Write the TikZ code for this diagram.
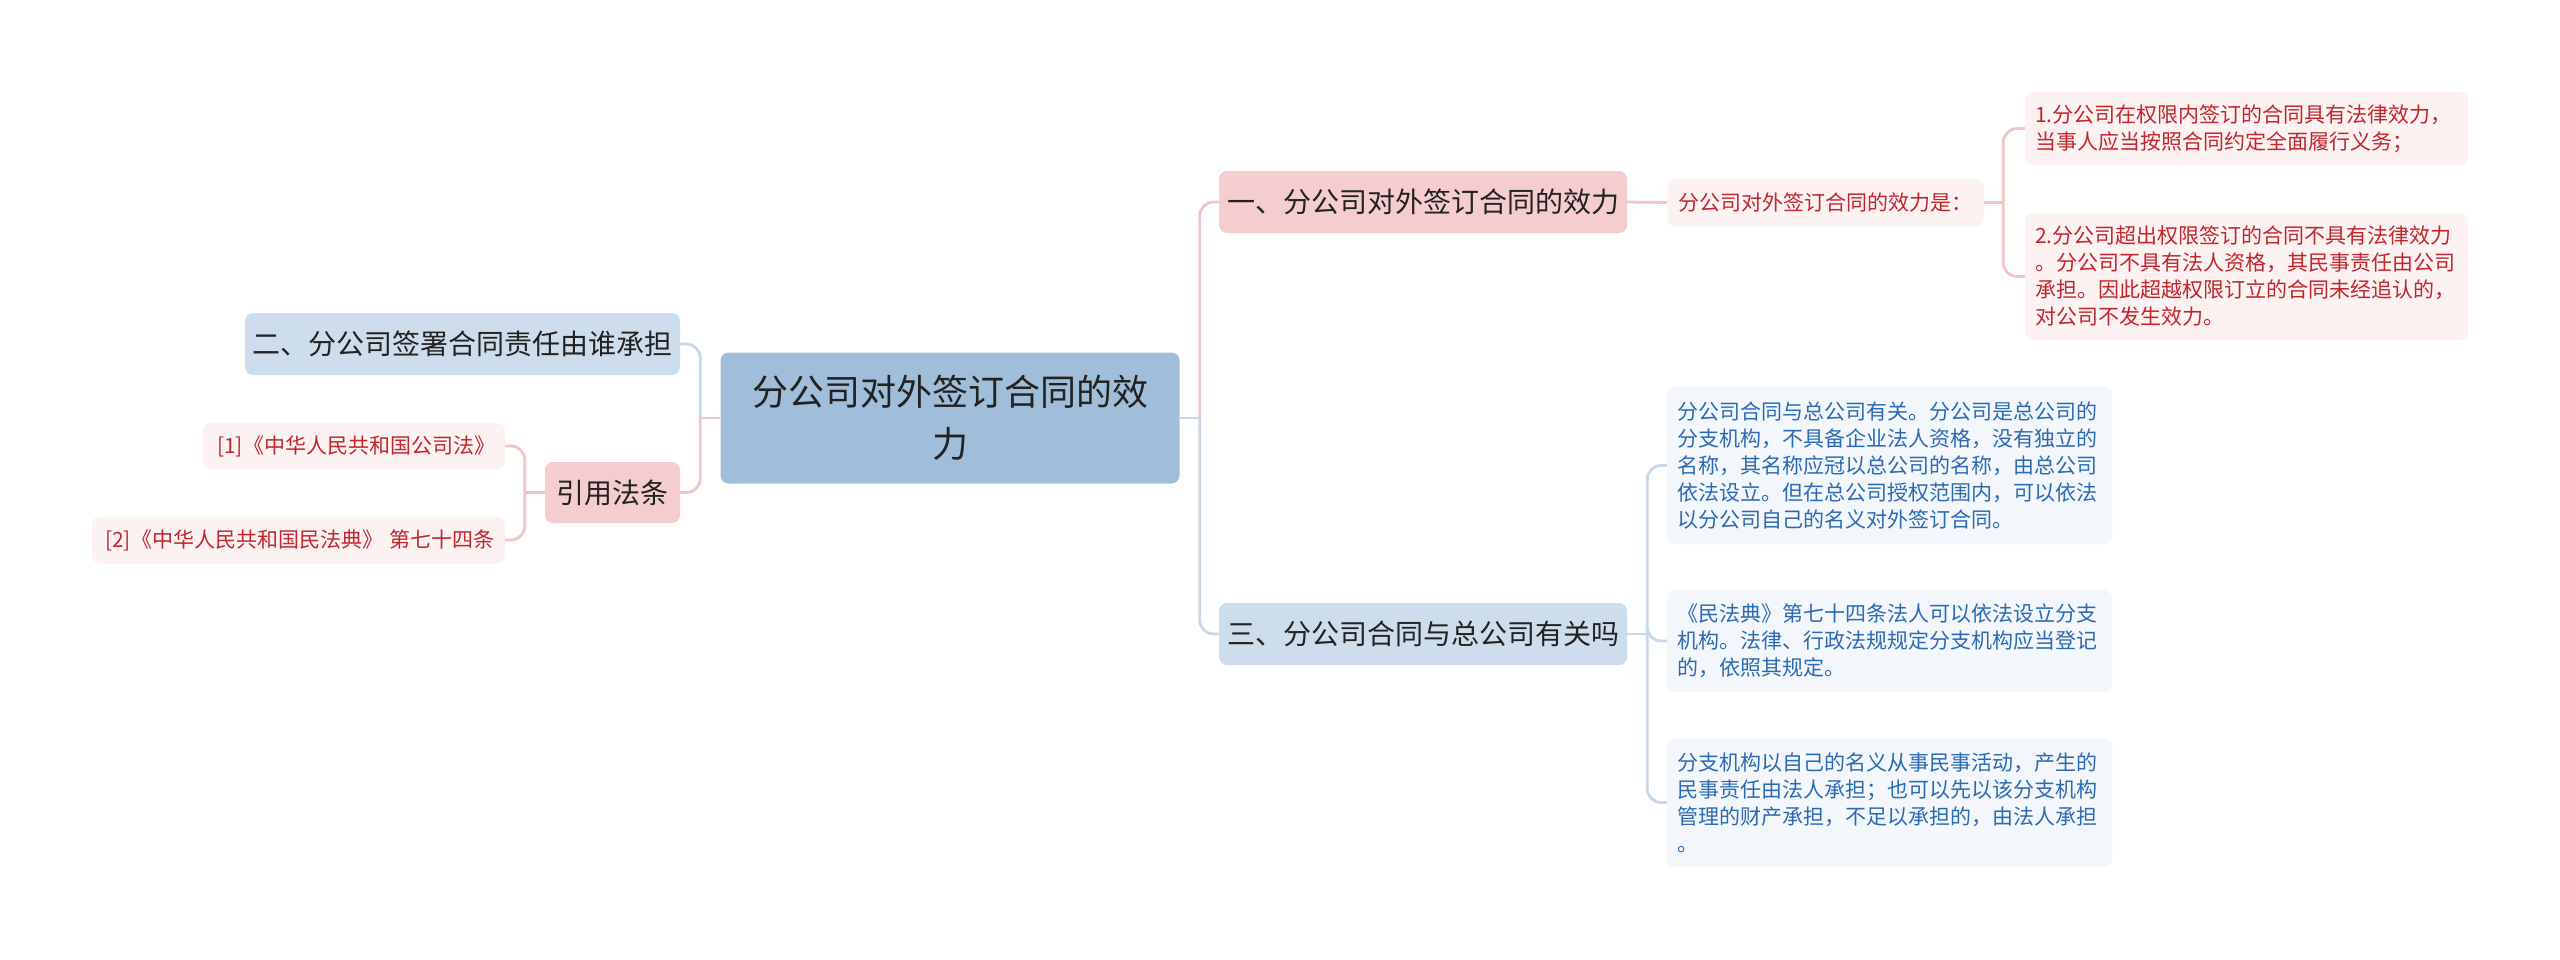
\documentclass[tikz,border=0pt]{standalone}
\usepackage{fontspec}
\setmainfont{Noto Sans CJK SC}
\definecolor{rootfill}{HTML}{A0BEDA}
\definecolor{pinkfill}{HTML}{F5CDCF}
\definecolor{bluefill}{HTML}{CDDDEC}
\definecolor{pinkleaf}{HTML}{FDF2F2}
\definecolor{blueleaf}{HTML}{F3F7FC}
\definecolor{redtext}{HTML}{C0262C}
\definecolor{bluetext}{HTML}{2B6BB3}
\definecolor{darktext}{HTML}{222222}
\definecolor{pinkline}{HTML}{F1C5C7}
\definecolor{blueline}{HTML}{C8D8E9}

\begin{document}
\begin{tikzpicture}[x=1pt,y=-1pt,
    rootnode/.style={fill=rootfill,rounded corners=8pt,minimum width=459pt,minimum height=131pt,
      align=center,text=darktext,font=\fontsize{36}{52}\selectfont},
    topic/.style={rounded corners=8pt,minimum height=62pt,text=darktext,font=\fontsize{28}{34}\selectfont},
    pinktopic/.style={topic,fill=pinkfill},
    bluetopic/.style={topic,fill=bluefill},
    redleaf/.style={fill=pinkleaf,rounded corners=8pt,text=redtext,inner xsep=10pt,inner ysep=0pt,
      font=\fontsize{21}{27}\selectfont},
    blueleafnode/.style={fill=blueleaf,rounded corners=8pt,text=bluetext,inner xsep=10pt,inner ysep=0pt,
      font=\fontsize{21}{27}\selectfont,text width=425pt,align=left},
    link/.style={line width=2.8pt,rounded corners=14pt},
    pinklink/.style={link,draw=pinkline},
    bluelink/.style={link,draw=blueline}]
  \useasboundingbox[fill=white] (0,0) rectangle (2560,959);

  % centre
  \node[rootnode] (root) at (950,418) {分公司对外签订合同的效\\力};

  % right side
  \node[pinktopic,minimum width=408pt] (effect) at (1423,202) {一、分公司对外签订合同的效力};
  \node[redleaf,minimum width=317pt,minimum height=47pt,font=\fontsize{21}{26}\selectfont]
    (effectis) at (1825.5,202.5) {分公司对外签订合同的效力是：};
  \node[redleaf,text width=423pt,align=left,minimum height=73pt] (within) at (2246.5,128.5)
    {1.分公司在权限内签订的合同具有法律效力，\\当事人应当按照合同约定全面履行义务；};
  \node[redleaf,text width=423pt,align=left,minimum height=127pt] (beyond) at (2246.5,276.5)
    {2.分公司超出权限签订的合同不具有法律效力\\。分公司不具有法人资格，其民事责任由公司\\承担。因此超越权限订立的合同未经追认的，\\对公司不发生效力。};

  \node[bluetopic,minimum width=408pt] (relate) at (1423,634) {三、分公司合同与总公司有关吗};
  \node[blueleafnode,minimum height=157pt] (branchorg) at (1889.5,465.5)
    {分公司合同与总公司有关。分公司是总公司的\\分支机构，不具备企业法人资格，没有独立的\\名称，其名称应冠以总公司的名称，由总公司\\依法设立。但在总公司授权范围内，可以依法\\以分公司自己的名义对外签订合同。};
  \node[blueleafnode,minimum height=102pt] (civilcode) at (1889.5,641)
    {《民法典》第七十四条法人可以依法设立分支\\机构。法律、行政法规规定分支机构应当登记\\的，依照其规定。};
  \node[blueleafnode,minimum height=129pt] (liability) at (1889.5,802.5)
    {分支机构以自己的名义从事民事活动，产生的\\民事责任由法人承担；也可以先以该分支机构\\管理的财产承担，不足以承担的，由法人承担\\。};

  % left side
  \node[bluetopic,minimum width=435pt] (whobears) at (462.5,344) {二、分公司签署合同责任由谁承担};
  \node[pinktopic,minimum width=135pt,minimum height=61pt] (cite) at (612.5,492.5) {引用法条};
  \node[redleaf,text width=282pt,align=right,minimum height=46pt] (lawone) at (354,446)
    {[1]《中华人民共和国公司法》};
  \node[redleaf,text width=393pt,align=right,minimum height=47pt] (lawtwo) at (298.5,540)
    {[2]《中华人民共和国民法典》 第七十四条};

  % connectors
  \draw[pinklink] (root.west) -- ++(-20,0) coordinate (lj);
  \draw[bluelink] (lj) |- (whobears.east);
  \draw[pinklink] (lj) |- (cite.east);
  \draw[bluelink] (root.east) -- ++(20,0) coordinate (rj);
  \draw[pinklink] (rj) |- (effect.west);
  \draw[bluelink] (rj) |- (relate.west);
  \draw[pinklink] (effect.east) -- (effectis.west);
  \draw[pinklink] (effectis.east) -- ++(19,0) coordinate (ej);
  \draw[pinklink] (ej) |- (within.west);
  \draw[pinklink] (ej) |- (beyond.west);
  \draw[bluelink] (relate.east) -- ++(20,0) coordinate (tj);
  \draw[bluelink] (tj) |- (branchorg.west);
  \draw[bluelink] (tj) |- (civilcode.west);
  \draw[bluelink] (tj) |- (liability.west);
  \draw[pinklink] (cite.west) -- ++(-20,0) coordinate (cj);
  \draw[pinklink] (cj) |- (lawone.east);
  \draw[pinklink] (cj) |- (lawtwo.east);
\end{tikzpicture}
\end{document}
